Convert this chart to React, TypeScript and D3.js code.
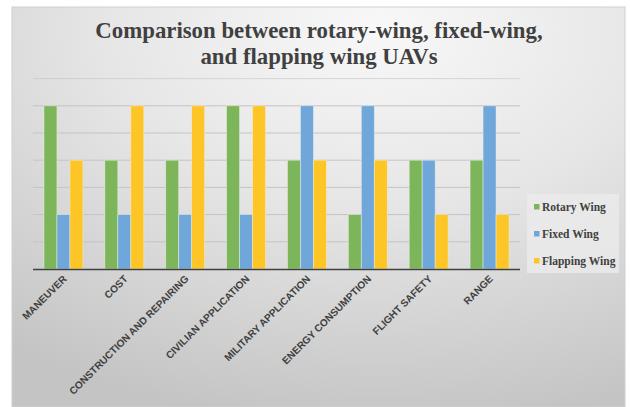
import React from "react";
import * as d3 from "d3";

const categories = [
  "MANEUVER",
  "COST",
  "CONSTRUCTION AND REPAIRING",
  "CIVILIAN APPLICATION",
  "MILITARY APPLICATION",
  "ENERGY CONSUMPTION",
  "FLIGHT SAFETY",
  "RANGE",
];
const seriesNames = ["Rotary Wing", "Fixed Wing", "Flapping Wing"];
const rotary = [6, 4, 4, 6, 4, 2, 4, 4];
const fixed = [2, 2, 2, 2, 6, 6, 4, 6];
const flapping = [4, 6, 6, 6, 4, 4, 2, 2];
const yTicks = [0, 1, 2, 3, 4, 5, 6, 7];
const colors = ["#7db65a", "#6fa7da", "#fdc526"];

const W = 630;
const H = 407;

export default function App() {
  const series = [rotary, fixed, flapping];
  const x = d3.scaleBand<string>().domain(categories).range([33, 520]).paddingInner(0.36).paddingOuter(0.18);
  const x1 = d3.scaleBand<number>().domain([0, 1, 2]).range([0, x.bandwidth()]);
  const y = d3.scaleLinear().domain([0, 7]).range([269, 78.6]);
  const text = "#404040";
  const serif = "'Liberation Serif', 'Times New Roman', serif";
  return (
    <svg width={W} height={H} style={{ position: "absolute", left: 0, top: 0 }}>
      <defs>
        <radialGradient id="bg" cx="0.6" cy="0.05" r="1.0" fx="0.6" fy="0.05">
          <stop offset="0" stopColor="#f8f8f8" />
          <stop offset="0.45" stopColor="#e6e6e6" />
          <stop offset="1" stopColor="#c4c4c4" />
        </radialGradient>
      </defs>
      <rect x={0} y={0} width={W} height={H} fill="#ffffff" />
      <rect x={12} y={7} width={613} height={400} fill="url(#bg)" stroke="#d0d0d0" strokeWidth={1} />
      <text x={319} y={38} textAnchor="middle" fontFamily={serif} fontWeight="bold" fontSize={22.8} fill={text}>
        Comparison between rotary-wing, fixed-wing,
      </text>
      <text x={319} y={64} textAnchor="middle" fontFamily={serif} fontWeight="bold" fontSize={22.8} fill={text}>
        and flapping wing UAVs
      </text>
      {yTicks.slice(1).map((t) => (
        <line key={t} x1={33} x2={520} y1={y(t)} y2={y(t)} stroke="#c4c4c4" strokeWidth={1} opacity={t === 7 ? 0.6 : 1} />
      ))}
      {categories.map((c, i) => (
        <g key={c} transform={`translate(${x(c)},0)`}>
          {series.map((s, j) => (
            <rect
              key={j}
              x={x1(j)}
              y={y(s[i])}
              width={x1.bandwidth()}
              height={y(0) - y(s[i])}
              fill={colors[j]}
              stroke="#eef2e8"
              strokeOpacity={0.6}
              strokeWidth={0.8}
            />
          ))}
        </g>
      ))}
      <line x1={33} x2={520} y1={269.5} y2={269.5} stroke="#404040" strokeWidth={1.5} />
      {categories.map((c) => {
        const cx = (x(c) ?? 0) + x.bandwidth() / 2;
        return (
          <text
            key={c}
            transform={`translate(${cx + 1.5},${277}) rotate(-45)`}
            textAnchor="end"
            dy="0.35em"
            fontFamily="'Liberation Sans', Arial, sans-serif"
            fontWeight="bold"
            fontSize={10.1}
            fill={text}
          >
            {c}
          </text>
        );
      })}
      <rect x={527} y={194} width={92} height={79} fill="#ebebeb" opacity={0.8} />
      {seriesNames.map((n, j) => (
        <g key={n} transform={`translate(534,${207 + j * 27})`}>
          <rect x={0} y={-3} width={5.5} height={5.5} fill={colors[j]} />
          <text x={8} y={0} dy="0.35em" fontFamily={serif} fontWeight="bold" fontSize={11.5} fill={text}>
            {n}
          </text>
        </g>
      ))}
    </svg>
  );
}
